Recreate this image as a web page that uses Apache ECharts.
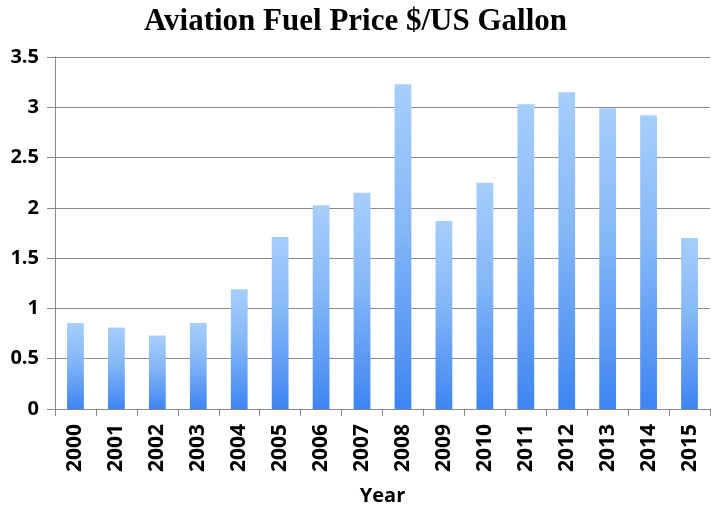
<!DOCTYPE html>
<html><head><meta charset="utf-8">
<script src="https://cdn.jsdelivr.net/npm/echarts@6/dist/echarts.min.js"></script>
<style>html,body{margin:0;padding:0;background:#fff}#c{width:711px;height:511px}</style>
</head><body><div id="c"></div>
<script>
const titleText = "Aviation Fuel Price $/US Gallon";
const xAxisName = "Year";
const years = ["2000","2001","2002","2003","2004","2005","2006","2007","2008","2009","2010","2011","2012","2013","2014","2015"];
const prices = [0.855,0.81,0.73,0.855,1.19,1.71,2.025,2.15,3.23,1.87,2.25,3.03,3.15,2.99,2.92,1.70];
const yTicks = {min:0, max:3.5, interval:0.5};

const chart = echarts.init(document.getElementById('c'), null, {renderer:'canvas'});
chart.setOption({
  animation:false,
  title:{text:titleText,left:'center',top:1,textStyle:{fontFamily:'Liberation Serif',fontWeight:'bold',fontSize:31,color:'#000'}},
  grid:{left:55,right:1,top:57,bottom:102,outerBoundsMode:'none',containLabel:false},
  xAxis:{type:'category',data:years,name:xAxisName,nameLocation:'middle',nameGap:77,
    nameTextStyle:{fontFamily:'Open Sans',fontWeight:'bold',fontSize:20,color:'#000'},
    axisLine:{lineStyle:{color:'#888',width:1}},
    axisTick:{show:true,length:7,lineStyle:{color:'#888'}},
    axisLabel:{rotate:90,margin:15,fontFamily:'Open Sans',fontWeight:'bold',fontSize:21,color:'#000'}},
  yAxis:{type:'value',min:yTicks.min,max:yTicks.max,interval:yTicks.interval,
    axisLine:{show:true,lineStyle:{color:'#888'}},
    axisTick:{show:true,length:8,inside:false,lineStyle:{color:'#888'}},
    axisLabel:{margin:16,fontFamily:'Open Sans',fontWeight:'bold',fontSize:20,color:'#000',
      formatter:v=>String(v)},
    splitLine:{lineStyle:{color:'#8a8a8a',width:1}}},
  series:[{type:'bar',data:prices,barWidth:'41%',
    itemStyle:{color:new echarts.graphic.LinearGradient(0,0,0,1,[
      {offset:0,color:'#a6cefa'},{offset:0.45,color:'#84b6f7'},{offset:1,color:'#3e85f2'}])}}]
});
</script></body></html>
